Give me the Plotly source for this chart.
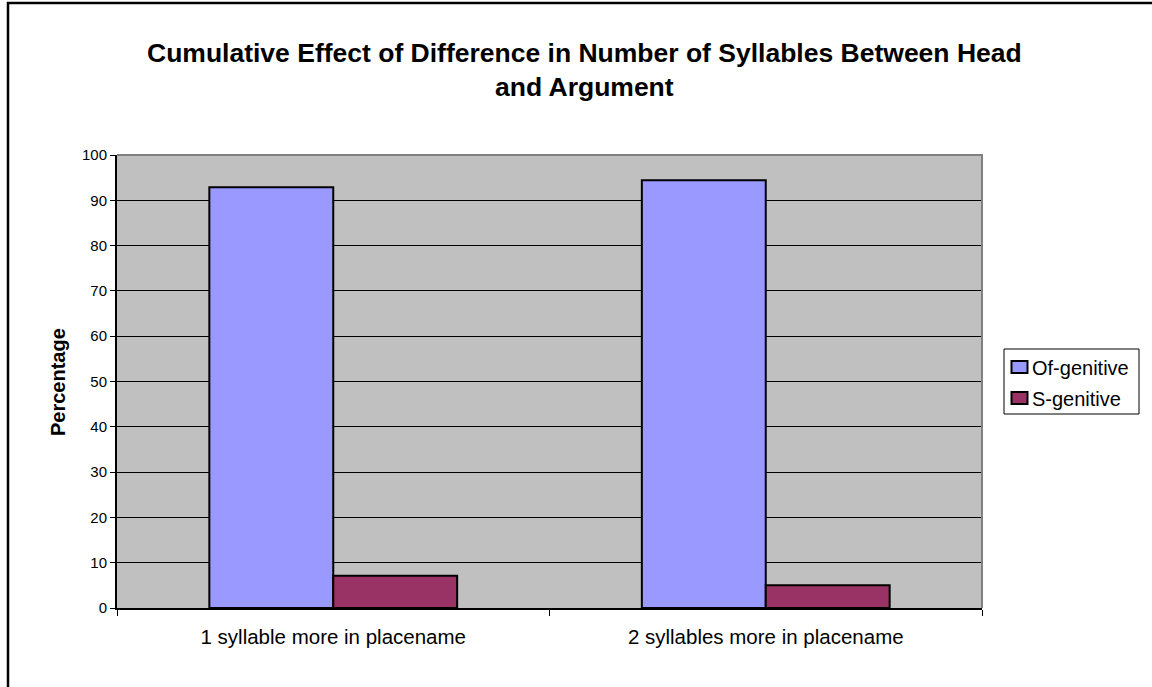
import plotly.graph_objects as go

# Chart data
categories = ["1 syllable more in placename", "2 syllables more in placename"]
series_names = ["Of-genitive", "S-genitive"]
of_genitive = [92.9, 94.4]
s_genitive = [7.1, 5.0]
y_ticks = [0, 10, 20, 30, 40, 50, 60, 70, 80, 90, 100]
colors = ["#9999FF", "#993366"]

W, H = 1152, 687
ML, MR, MT, MB = 117, 170, 155, 79
PW, PH = W - ML - MR, H - MT - MB


def px_x(x):
    return (x - ML) / PW


def px_y(y):
    return (H - MB - y) / PH


FONT = "Liberation Sans, Arial, sans-serif"

fig = go.Figure()
for name, vals, col in zip(series_names, [of_genitive, s_genitive], colors):
    fig.add_trace(go.Bar(
        name=name, x=categories, y=vals,
        marker=dict(color=col, line=dict(color="black", width=2)),
        showlegend=False,
    ))

shapes = [
    # gray frame along the top and right of the plot area
    dict(type="path", xref="paper", yref="paper",
         path="M 1,0 L 1,1 L 0,1", line=dict(color="#808080", width=2),
         layer="above"),
    # outer chart frame
    dict(type="rect", xref="paper", yref="paper",
         x0=px_x(8), x1=px_x(1200), y0=px_y(740), y1=px_y(3),
         line=dict(color="black", width=2.5), fillcolor="rgba(0,0,0,0)",
         layer="above"),
    # legend box
    dict(type="rect", xref="paper", yref="paper",
         x0=px_x(1004), x1=px_x(1139), y0=px_y(414), y1=px_y(349),
         line=dict(color="black", width=1), fillcolor="white",
         layer="above"),
]

annotations = [
    dict(text="<b>Cumulative Effect of Difference in Number of Syllables Between Head</b>",
         xref="paper", yref="paper", x=px_x(584), y=px_y(53),
         xanchor="center", yanchor="middle", showarrow=False,
         font=dict(size=26.5, family=FONT, color="black")),
    dict(text="<b>and Argument</b>",
         xref="paper", yref="paper", x=px_x(584), y=px_y(87),
         xanchor="center", yanchor="middle", showarrow=False,
         font=dict(size=26.5, family=FONT, color="black")),
    dict(text="<b>Percentage</b>",
         xref="paper", yref="paper", x=px_x(58), y=px_y(382),
         xanchor="center", yanchor="middle", showarrow=False, textangle=-90,
         font=dict(size=20, family=FONT, color="black")),
]

# legend entries: swatch + label
legend_rows = [367, 398]
for name, col, cy in zip(series_names, colors, legend_rows):
    shapes.append(dict(
        type="rect", xref="paper", yref="paper",
        x0=px_x(1011.5), x1=px_x(1027.5), y0=px_y(cy + 6), y1=px_y(cy - 6),
        line=dict(color="black", width=2), fillcolor=col, layer="above"))
    annotations.append(dict(
        text=name, xref="paper", yref="paper", x=px_x(1030), y=px_y(cy + 1),
        xanchor="left", yanchor="middle", showarrow=False,
        font=dict(size=20, family=FONT, color="black")))

fig.update_layout(
    width=W, height=H,
    margin=dict(l=ML, r=MR, t=MT, b=MB, autoexpand=False),
    paper_bgcolor="white",
    plot_bgcolor="#C0C0C0",
    barmode="group",
    bargap=0.427,
    bargroupgap=0,
    font=dict(family=FONT, color="black"),
    showlegend=False,
    xaxis=dict(
        type="category",
        showline=True, linecolor="black", linewidth=1.5,
        ticks="outside", tickson="boundaries", ticklen=6, tickcolor="black", tickwidth=1,
        tickfont=dict(size=20.5, family=FONT, color="black"),
        showgrid=False, automargin=False,
        ticklabelstandoff=10,
    ),
    yaxis=dict(
        range=[0, 100], tickvals=y_ticks,
        showline=True, linecolor="black", linewidth=2,
        ticks="outside", ticklen=5, tickcolor="black", tickwidth=1,
        tickfont=dict(size=15, family=FONT, color="black"),
        showgrid=True, gridcolor="black", gridwidth=1,
        zeroline=False, automargin=False,
    ),
    shapes=shapes,
    annotations=annotations,
)

fig.write_html("out.html")
